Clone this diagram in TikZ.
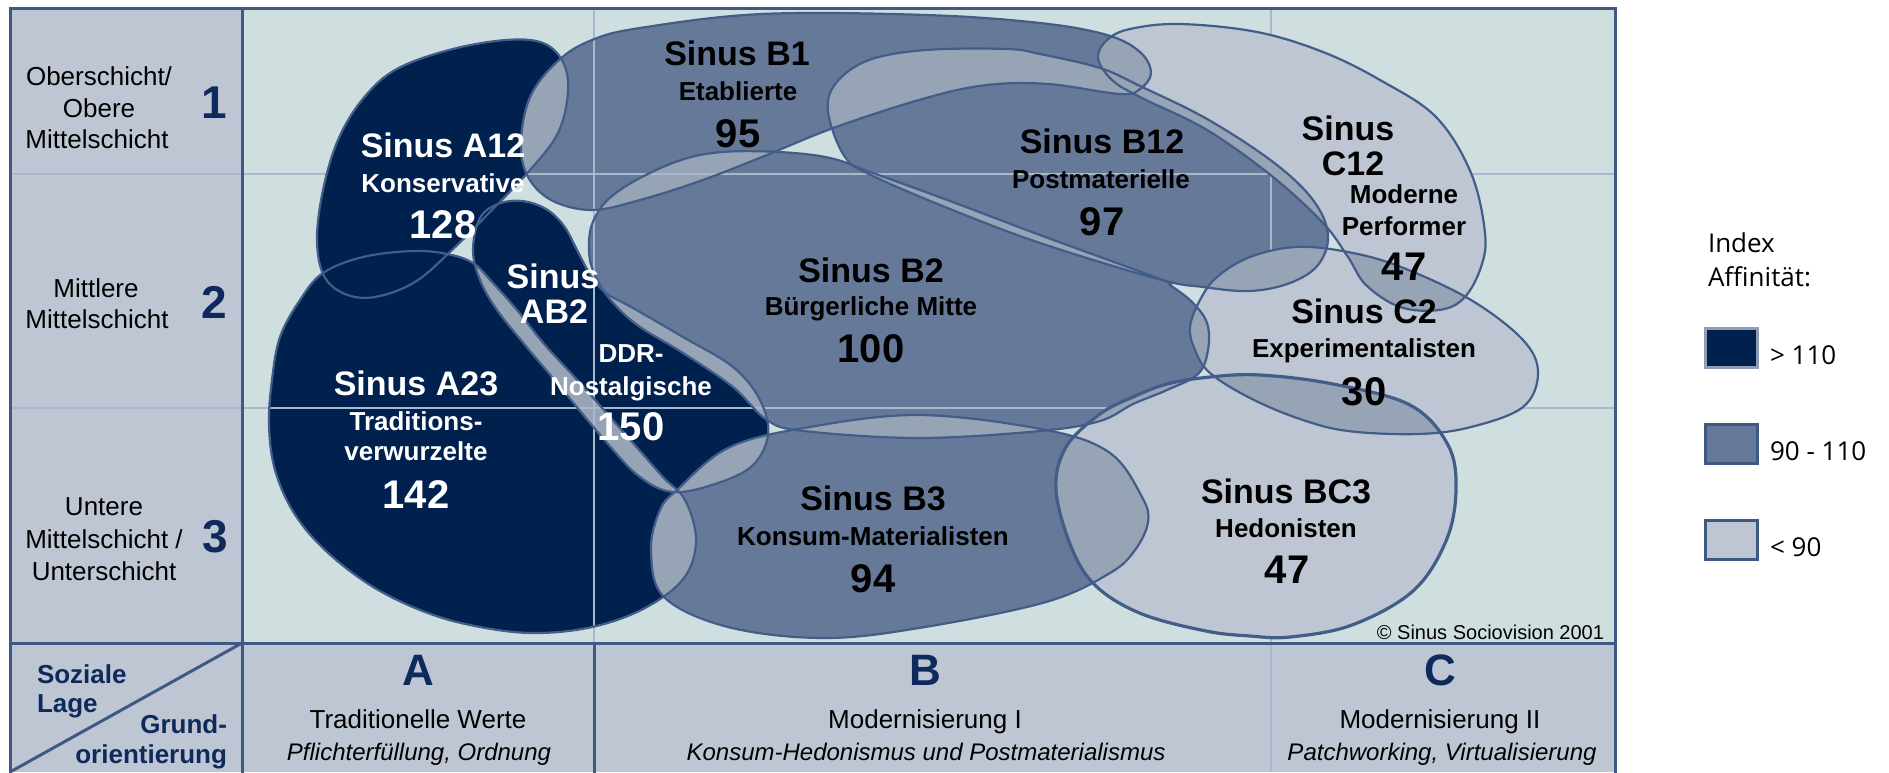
\documentclass[tikz,border=0pt]{standalone}
\usepackage{fontspec}
\setmainfont{Liberation Sans}
\newfontfamily\legfont{Open Sans}
\definecolor{chartbg}{HTML}{CFDFE0}
\definecolor{cellbg}{HTML}{BFC6D3}
\definecolor{navy}{HTML}{00204E}
\definecolor{midb}{HTML}{667999}
\definecolor{lightb}{HTML}{BFC6D3}
\definecolor{ovlc}{HTML}{97A4B6}
\definecolor{outl}{HTML}{425D88}
\definecolor{gridl}{HTML}{A9B8CB}
\definecolor{framec}{HTML}{3F5A82}
\definecolor{navytext}{HTML}{0E2A5C}
\definecolor{legnavyborder}{HTML}{8E9DB5}

% blob outlines (pixel coordinates, y downwards)
\newcommand{\pAa}{plot[smooth cycle,tension=0.6] coordinates {(506,40) (543,43) (563,62) (568,92) (558,133) (530,170) (490,212) (452,250) (415,282) (375,297) (345,294) (324,276) (317,240) (323,190) (338,140) (362,100) (395,70) (449,50)}}
\newcommand{\pAb}{plot[smooth cycle,tension=0.6] coordinates {(272,380) (280,337) (300,300) (323,273) (363,257) (413,251) (447,254) (473,263) (493,283) (517,310) (545,345) (580,383) (633,443) (663,477) (685,500) (696,540) (684,578) (645,608) (592,627) (531,633) (470,625) (420,610) (370,585) (325,550) (294,513) (275,470) (269,425)}}
\newcommand{\pAB}{plot[smooth cycle,tension=0.6] coordinates {(480,218) (498,204) (522,201) (546,209) (564,226) (577,250) (591,276) (606,293) (633,308) (683,337) (733,367) (760,400) (768,435) (752,466) (715,484) (673,492) (640,477) (607,443) (557,383) (525,345) (497,310) (480,280) (473,250)}}
\newcommand{\pBa}{plot[smooth cycle,tension=0.6] coordinates {(592,40) (640,28) (762,14) (926,15) (1040,23) (1107,35) (1140,52) (1151,73) (1140,89) (1120,94) (1048,84) (987,85) (926,98) (836,127) (762,157) (700,181) (640,200) (592,210) (551,200) (527,175) (521,140) (531,95) (559,60)}}
\newcommand{\pBb}{plot[smooth cycle,tension=0.6] coordinates {(828,112) (836,83) (869,60) (926,50) (1007,49) (1040,54) (1100,68) (1140,86) (1207,119) (1273,162) (1313,200) (1328,235) (1318,265) (1290,283) (1250,291) (1203,287) (1158,279) (1040,243) (950,209) (873,176) (845,157)}}
\newcommand{\pBc}{plot[smooth cycle,tension=0.6] coordinates {(590,232) (590,260) (600,285) (616,306) (640,327) (683,353) (733,387) (767,420) (804,431) (919,438) (1040,431) (1100,421) (1133,404) (1167,390) (1198,374) (1208,350) (1207,323) (1192,302) (1170,285) (1160,279) (1040,235) (950,201) (873,173) (830,158) (779,152) (722,152) (681,160) (640,178) (612,196) (598,212)}}
\newcommand{\pBd}{plot[smooth cycle,tension=0.6] coordinates {(660,510) (677,490) (728,448) (804,428) (919,415) (1046,430) (1110,453) (1142,497) (1148,522) (1135,550) (1110,573) (1046,602) (919,628) (823,638) (728,627) (664,597) (651,550)}}
\newcommand{\pCa}{plot[smooth cycle,tension=0.6] coordinates {(1098,58) (1107,40) (1130,29) (1180,24) (1257,32) (1323,52) (1380,80) (1436,117) (1471,173) (1485,233) (1481,267) (1464,298) (1439,310) (1400,307) (1366,285) (1348,257) (1323,223) (1273,177) (1207,130) (1140,97) (1112,80)}}
\newcommand{\pCb}{plot[smooth cycle,tension=0.6] coordinates {(1190,327) (1200,300) (1217,277) (1250,257) (1296,247) (1348,252) (1401,267) (1471,300) (1523,340) (1538,373) (1523,407) (1471,427) (1418,434) (1348,431) (1300,419) (1250,398) (1210,373) (1195,350)}}
\newcommand{\pBC}{plot[smooth cycle,tension=0.6] coordinates {(1056,490) (1066,447) (1100,414) (1133,397) (1167,384) (1210,377) (1260,375) (1333,384) (1410,405) (1448,445) (1456,490) (1446,541) (1413,591) (1352,625) (1290,637) (1250,636) (1206,631) (1142,614) (1097,587) (1072,549)}}

\newcommand{\ovpair}[2]{\begin{scope}\clip #1;\fill[ovlc] #2;\end{scope}}

\begin{document}
\begin{tikzpicture}[x=1pt,y=-1pt,
  every node/.style={inner sep=0pt,outer sep=0pt},
  blobline/.style={draw=outl,line width=2.2pt},
  gridline/.style={draw=gridl,line width=2pt},
  frameline/.style={draw=framec,line width=3pt},
  title/.style={font=\fontsize{34}{38}\selectfont\bfseries,anchor=base},
  sub/.style={font=\fontsize{26}{30}\selectfont\bfseries,anchor=base},
  num/.style={font=\fontsize{40}{44}\selectfont\bfseries,anchor=base},
  wt/.style={text=white},
  bk/.style={text=black},
  rowlab/.style={font=\fontsize{26}{30}\selectfont,anchor=base},
  rownum/.style={font=\fontsize{46}{50}\selectfont\bfseries,text=navytext,anchor=base},
  colletter/.style={font=\fontsize{44}{48}\selectfont\bfseries,text=navytext,anchor=base},
  coltitle/.style={font=\fontsize{26}{30}\selectfont,anchor=base},
  colsub/.style={font=\fontsize{24}{28}\selectfont\itshape,anchor=base},
  axislab/.style={font=\fontsize{26}{30}\selectfont\bfseries,text=navytext},
  leg/.style={font=\legfont\fontsize{26}{32}\selectfont,anchor=base west},
  legbox/.style={minimum width=52pt,minimum height=39pt,line width=3pt}
]
\useasboundingbox (0,0) rectangle (1889,772);
\fill[white] (0,0) rectangle (1889,772);

% backgrounds
\fill[chartbg] (242,8) rectangle (1615,643);
\fill[cellbg] (10,8) rectangle (242,643);
\fill[cellbg] (10,643) rectangle (1615,772);

% navy and mid blobs (A12 comes after the grid)
\fill[navy] \pAb;
\fill[navy] \pAB;
\fill[midb] \pBa;
\fill[midb] \pBb;
\fill[midb] \pBc;
\fill[midb] \pBd;

% their overlaps
\ovpair{\pAb}{\pAB}
\ovpair{\pAb}{\pBd}
\ovpair{\pAB}{\pBc}
\ovpair{\pAB}{\pBd}
\ovpair{\pBa}{\pBb}
\ovpair{\pBa}{\pBc}
\ovpair{\pBb}{\pBc}
\ovpair{\pBc}{\pBd}

% grid lines
\draw[gridline] (10,174) -- (1615,174);
\draw[gridline] (10,408) -- (1615,408);
\draw[gridline] (594,8) -- (594,643);
\draw[gridline] (1271,8) -- (1271,772);

% A12 above the grid
\fill[navy] \pAa;
\ovpair{\pAa}{\pBa}

% light blobs
\fill[lightb] \pCa;
\fill[lightb] \pCb;
\fill[lightb] \pBC;
\ovpair{\pCa}{\pBa}
\ovpair{\pCa}{\pBb}
\ovpair{\pCa}{\pCb}
\ovpair{\pCb}{\pBb}
\ovpair{\pCb}{\pBc}
\ovpair{\pCb}{\pBC}
\ovpair{\pBC}{\pBc}
\ovpair{\pBC}{\pBd}

% outlines
\draw[blobline] \pAa;
\draw[blobline] \pAb;
\draw[blobline] \pAB;
\draw[blobline] \pBa;
\draw[blobline] \pBb;
\draw[blobline] \pBc;
\draw[blobline] \pBd;
\draw[blobline] \pCa;
\draw[blobline] \pCb;
\draw[blobline,line width=3.2pt] \pBC;

% frame
\draw[frameline] (10,8) rectangle (1615,775);
\draw[frameline] (242,8) -- (242,775);
\draw[frameline] (10,643) -- (1615,643);
\draw[frameline] (594,643) -- (594,775);
\draw[frameline] (10,772) -- (242,643);

% row labels
\node[rowlab] (r1a) at (99,85) {Oberschicht/};
\node[rowlab] (r1b) at (99,117) {Obere};
\node[rowlab] (r1c) at (97,148) {Mittelschicht};
\node[rownum] (n1) at (214,118) {1};
\node[rowlab] (r2a) at (96,297) {Mittlere};
\node[rowlab] (r2b) at (97,328) {Mittelschicht};
\node[rownum] (n2) at (214,318) {2};
\node[rowlab] (r3a) at (104,515) {Untere};
\node[rowlab] (r3b) at (104,548) {Mittelschicht /};
\node[rowlab] (r3c) at (104,580) {Unterschicht};
\node[rownum] (n3) at (215,552) {3};

% axis corner
\node[axislab,anchor=base west] (soz) at (37,683) {Soziale};
\node[axislab,anchor=base west] (lage) at (37,712) {Lage};
\node[axislab,anchor=base east] (grund) at (227,733) {Grund-};
\node[axislab,anchor=base east] (orient) at (227,763) {orientierung};

% column labels
\node[colletter] (ca) at (418,685) {A};
\node[coltitle] (cat) at (418,728) {Traditionelle Werte};
\node[colsub] (cas) at (419,760) {Pflichterfüllung, Ordnung};
\node[colletter] (cb) at (925,685) {B};
\node[coltitle] (cbt) at (925,728) {Modernisierung I};
\node[colsub] (cbs) at (926,760) {Konsum-Hedonismus und Postmaterialismus};
\node[colletter] (cc) at (1440,685) {C};
\node[coltitle] (cct) at (1440,728) {Modernisierung II};
\node[colsub] (ccs) at (1442,760) {Patchworking, Virtualisierung};

\node[font=\fontsize{20}{24}\selectfont,anchor=base east] (copy) at (1604,639) {© Sinus Sociovision 2001};

% blob labels
\node[title,wt] (a12t) at (443,157) {Sinus A12};
\node[sub,wt] (a12s) at (443,192) {Konservative};
\node[num,wt] (a12n) at (443,238) {128};

\node[title,wt] (ab2t) at (553,288) {Sinus};
\node[title,wt] (ab2u) at (554,323) {AB2};
\node[sub,wt] (ab2s) at (631,362) {DDR-};
\node[sub,wt] (ab2v) at (631,395) {Nostalgische};
\node[num,wt] (ab2n) at (631,440) {150};

\node[title,wt] (a23t) at (416,395) {Sinus A23};
\node[sub,wt] (a23s) at (416,430) {Traditions-};
\node[sub,wt] (a23v) at (416,460) {verwurzelte};
\node[num,wt] (a23n) at (416,508) {142};

\node[title,bk] (b1t) at (737,65) {Sinus B1};
\node[sub,bk] (b1s) at (738,100) {Etablierte};
\node[num,bk] (b1n) at (738,147) {95};

\node[title,bk] (b12t) at (1102,153) {Sinus B12};
\node[sub,bk] (b12s) at (1101,188) {Postmaterielle};
\node[num,bk] (b12n) at (1102,235) {97};

\node[title,bk] (b2t) at (871,282) {Sinus B2};
\node[sub,bk] (b2s) at (871,315) {Bürgerliche Mitte};
\node[num,bk] (b2n) at (871,362) {100};

\node[title,bk] (b3t) at (873,510) {Sinus B3};
\node[sub,bk] (b3s) at (873,545) {Konsum-Materialisten};
\node[num,bk] (b3n) at (873,592) {94};

\node[title,bk] (bc3t) at (1286,503) {Sinus BC3};
\node[sub,bk] (bc3s) at (1286,537) {Hedonisten};
\node[num,bk] (bc3n) at (1287,583) {47};

\node[title,bk] (c12t) at (1348,140) {Sinus};
\node[title,bk] (c12u) at (1353,175) {C12};
\node[sub,bk] (c12s) at (1404,203) {Moderne};
\node[sub,bk] (c12v) at (1404,235) {Performer};
\node[num,bk] (c12n) at (1404,280) {47};

\node[title,bk] (c2t) at (1364,323) {Sinus C2};
\node[sub,bk] (c2s) at (1364,357) {Experimentalisten};
\node[num,bk] (c2n) at (1364,405) {30};

% legend
\node[leg] (lega) at (1708,252) {Index};
\node[leg] (legb) at (1708,286) {Affinität:};
\node[legbox,fill=navy,draw=legnavyborder] (bx1) at (1731,348) {};
\node[legbox,fill=midb,draw=framec] (bx2) at (1731,444) {};
\node[legbox,fill=lightb,draw=framec] (bx3) at (1731,540) {};
\node[leg] (l1) at (1770,364) {> 110};
\node[leg] (l2) at (1770,460) {90 - 110};
\node[leg] (l3) at (1770,556) {< 90};
\end{tikzpicture}
\end{document}
